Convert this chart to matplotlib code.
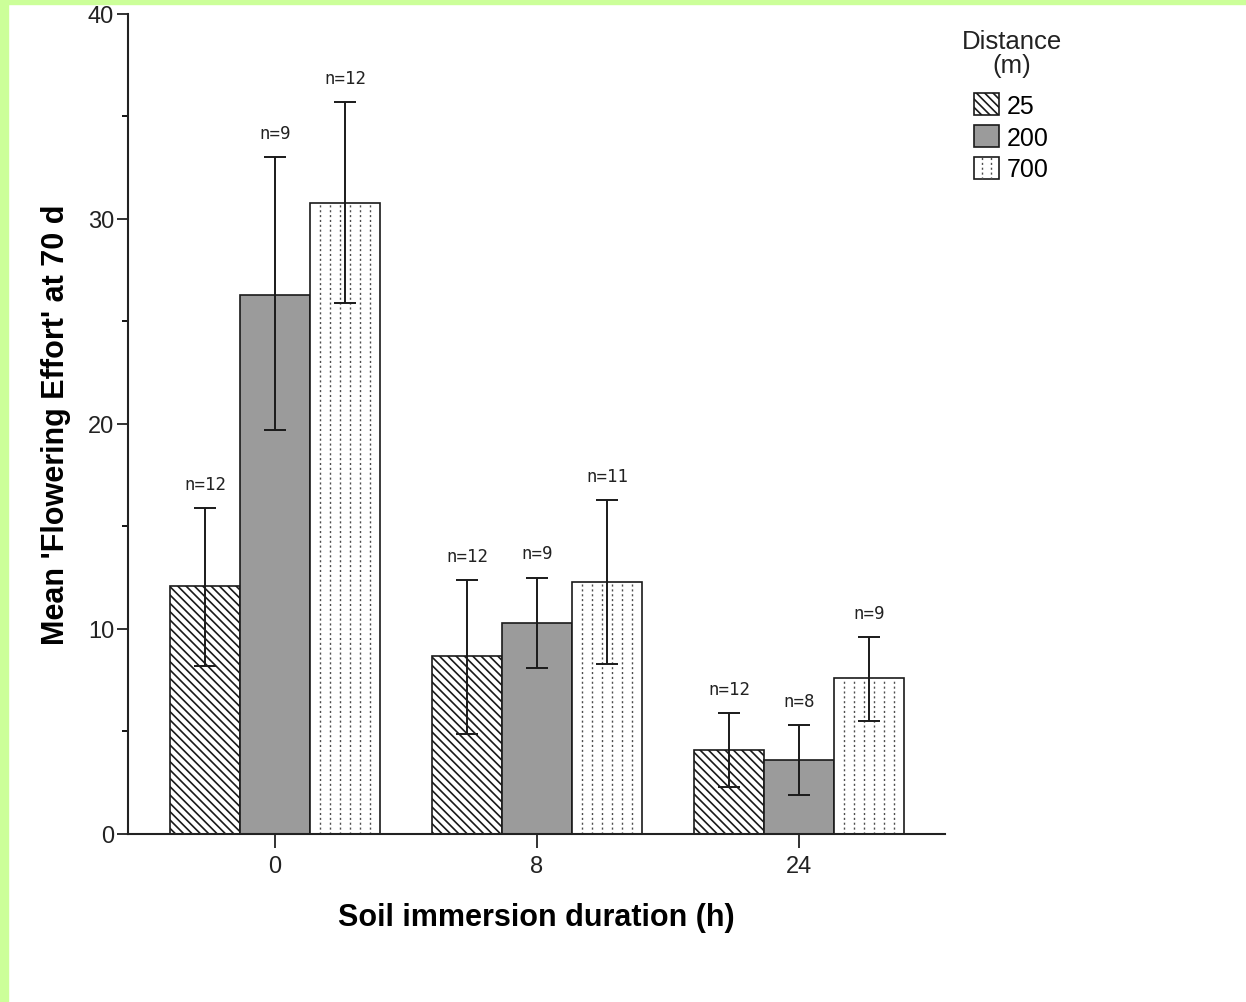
import numpy as np
import matplotlib
matplotlib.use('Agg')
import matplotlib.pyplot as plt
from matplotlib.patches import Rectangle
from matplotlib.legend_handler import HandlerBase
from matplotlib.lines import Line2D
from matplotlib.ticker import MultipleLocator

plt.rcParams['font.family'] = ['Liberation Sans', 'DejaVu Sans']
plt.rcParams['hatch.linewidth'] = 1.2

# data
durations = ['0', '8', '24']
distances = ['25', '200', '700']
means = {
    '25': [12.1, 8.7, 4.1],
    '200': [26.3, 10.3, 3.6],
    '700': [30.8, 12.3, 7.6],
}
err_low = {
    '25': [3.9, 3.8, 1.8],
    '200': [6.6, 2.2, 1.7],
    '700': [4.9, 4.0, 2.1],
}
err_high = {
    '25': [3.8, 3.7, 1.8],
    '200': [6.7, 2.2, 1.7],
    '700': [4.9, 4.0, 2.0],
}
n_counts = {
    '25': [12, 12, 12],
    '200': [9, 9, 8],
    '700': [12, 11, 9],
}

fill = {'25': 'white', '200': '#9b9b9b', '700': 'white'}
hatch = {'25': '\\\\\\\\', '200': None, '700': None}
edge = '#1a1a1a'
dot_style = (0, (1.5, 2.0))


def dotted_columns(x0, w, h, ncol, lw=1.0):
    # vertical dotted lines inside a rectangle (700 m pattern)
    xs = x0 + w * np.arange(1, ncol + 1) / (ncol + 1)
    return [Line2D([xx, xx], [0, h], color='#4d4d4d', lw=lw, linestyle=dot_style)
            for xx in xs]


class DottedHandler(HandlerBase):
    def create_artists(self, legend, orig_handle, xdescent, ydescent,
                       width, height, fontsize, trans):
        r = Rectangle((-xdescent, -ydescent), width, height, facecolor='white',
                      edgecolor=edge, lw=1.2, transform=trans)
        lines = []
        for k in (1, 2):
            xx = -xdescent + width * k / 3
            ln = Line2D([xx, xx], [-ydescent, -ydescent + height], color='#4d4d4d',
                        lw=1.0, linestyle=dot_style, transform=trans)
            lines.append(ln)
        return [r] + lines


fig = plt.figure(figsize=(12.46, 10.03), dpi=100)
ax = fig.add_axes([0.1027, 0.1675, 0.6557, 0.8176])

x = np.arange(len(durations))
w = 0.267
handles = []
for i, d in enumerate(distances):
    pos = x + (i - 1) * w
    bars = ax.bar(pos, means[d], width=w, color=fill[d], edgecolor=edge,
                  linewidth=1.2, hatch=hatch[d], zorder=2, label=d)
    handles.append(bars)
    if d == '700':
        for b in bars:
            for ln in dotted_columns(b.get_x(), b.get_width(), b.get_height(), 6):
                ax.add_line(ln)
    ax.errorbar(pos, means[d], yerr=[err_low[d], err_high[d]], fmt='none',
                ecolor='#1a1a1a', elinewidth=1.4, capsize=8, capthick=1.4, zorder=4)
    for p, m, e, n in zip(pos, means[d], err_high[d], n_counts[d]):
        ax.annotate('n=%d' % n, (p, m + e), xytext=(0, 11), textcoords='offset points',
                    ha='center', va='bottom', fontsize=12.5, fontfamily='DejaVu Sans Mono',
                    color='#222222')

ax.set_xlim(-0.561, 2.557)
ax.set_ylim(0, 40)
ax.set_xticks(x)
ax.set_xticklabels(durations)
ax.yaxis.set_major_locator(MultipleLocator(10))
ax.yaxis.set_minor_locator(MultipleLocator(5))
ax.tick_params(axis='y', which='major', length=8, width=1.3, labelsize=17, pad=2, colors='#222222')
ax.tick_params(axis='y', which='minor', length=4, width=1.3)
ax.tick_params(axis='x', length=10, width=1.3, labelsize=17, pad=5, colors='#222222')
for s in ('top', 'right'):
    ax.spines[s].set_visible(False)
for s in ('left', 'bottom'):
    ax.spines[s].set_linewidth(1.5)
    ax.spines[s].set_color('#222222')

ax.set_xlabel('Soil immersion duration (h)', fontsize=22, fontweight='bold', labelpad=18)
ax.set_ylabel("Mean 'Flowering Effort' at 70 d", fontsize=22, fontweight='bold', labelpad=12)

# legend title drawn separately so the gap below it matches
fig.text(1012 / 1246, 1 - 54 / 1003, 'Distance\n(m)', ha='center', va='center',
         fontsize=18.5, linespacing=1.05, color='#222222')
leg = fig.legend(handles=handles, labels=distances,
                 loc='upper left', bbox_to_anchor=(974 / 1246, 1 - 94 / 1003), frameon=False,
                 fontsize=18, handlelength=1.0, handleheight=1.0,
                 handletextpad=0.3, labelspacing=0.28, borderaxespad=0, borderpad=0,
                 handler_map={handles[2]: DottedHandler()})

# green page border (top and left)
fig.patches.append(Rectangle((0, 1 - 5 / 1003), 1, 5 / 1003, transform=fig.transFigure,
                             color='#ccff99', zorder=10))
fig.patches.append(Rectangle((0, 0), 8 / 1246, 1, transform=fig.transFigure,
                             color='#ccff99', zorder=10))

fig.savefig('out.png', dpi=100)
